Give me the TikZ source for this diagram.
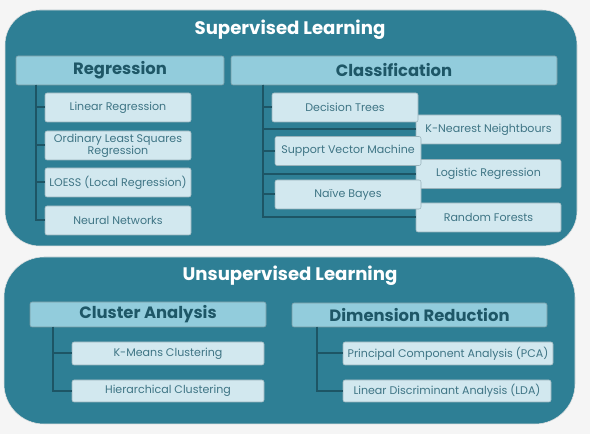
\documentclass[tikz,border=0pt]{standalone}
\usepackage{fontspec}
\setmainfont{Poppins}
\usepackage{tikz}
\usetikzlibrary{calc}

\definecolor{pagebg}{HTML}{F5F5F5}
\definecolor{panel}{HTML}{2E7F95}
\definecolor{headfill}{HTML}{92CCDC}
\definecolor{headtext}{HTML}{1E5767}
\definecolor{itemfill}{HTML}{D2E8EF}
\definecolor{itemtext}{HTML}{3F7585}
\definecolor{treeline}{HTML}{1D5565}

\tikzset{
    panelbox/.style={fill=panel, draw=black!12, rounded corners=#1},
    title/.style={text=white, font=\fontsize{13.6}{15}\selectfont\bfseries},
    head/.style={draw=treeline!60, fill=headfill, rounded corners=1.5pt, inner sep=0pt,
        text=headtext, font=\fontsize{12.3}{13}\selectfont\bfseries},
    item/.style={draw=treeline!45, fill=itemfill, rounded corners=1.5pt, inner sep=0pt,
        text=itemtext, align=center, font=\fontsize{8.3}{9}\selectfont},
    size/.style 2 args={minimum width=#1*0.75pt, minimum height=#2*0.75pt},
    branch/.style={draw=treeline, line width=1.5pt}
}

\begin{document}
\begin{tikzpicture}[x=0.75pt, y=-0.75pt]
        % Page
        \fill[pagebg] (0,0) rectangle (590,434);
        \useasboundingbox (0,0) rectangle (590,434);

        % Supervised panel
        \draw[panelbox=26pt] (5,10) rectangle (577,246);
        \node[title] (sup) at (290,30) {Supervised Learning};

        \node[head, size={208}{29}] (reg) at (120,70.5) {Regression};
        \node[head, size={326}{29}] (cls) at (394,70.5) {Classification};

        % Regression branch
        \node[item, size={146}{29}] (linreg) at (118,107.5) {Linear Regression};
        \node[item, size={146}{29}] (ols) at (118,145.5) {Ordinary Least Squares\\Regression};
        \node[item, size={146}{29}] (loess) at (118,182.5) {LOESS (Local Regression)};
        \node[item, size={146}{29}] (nnet) at (118,220.5) {Neural Networks};

        \coordinate (rtop) at (36,85);
        \draw[branch] (rtop) |- (linreg.west);
        \draw[branch] (rtop) |- (ols.west);
        \draw[branch] (rtop) |- (loess.west);
        \draw[branch] (rtop) |- (nnet.west);

        % Classification branch (right column under the left one)
        \node[item, size={145}{29}] (knn) at (488.5,129.5) {K-Nearest Neightbours};
        \node[item, size={145}{29}] (logreg) at (488.5,174) {Logistic Regression};
        \node[item, size={145}{29}] (rforest) at (488.5,217.5) {Random Forests};
        \node[item, size={146}{29}] (dtree) at (345,107.5) {Decision Trees};
        \node[item, size={146}{29}] (svm) at (348,151) {Support Vector Machine};
        \node[item, size={146}{29}] (nbayes) at (348,194.5) {Naïve Bayes};

        \coordinate (ctop) at (263,85);
        \foreach \leaf in {dtree,knn,svm,logreg,nbayes,rforest}
            \draw[branch] (ctop) |- (\leaf.west);

        % Unsupervised panel
        \draw[panelbox=30pt] (4,257) rectangle (575,424);
        \node[title] (unsup) at (290,276) {Unsupervised Learning};

        \node[head, size={236}{25}] (clu) at (148,314.5) {Cluster Analysis};
        \node[head, size={255}{24}] (dimred) at (419.5,315) {Dimension Reduction};

        % Cluster branch
        \node[item, size={192}{23}] (kmeans) at (168,353.5) {K-Means Clustering};
        \node[item, size={192}{22}] (hier) at (168,391) {Hierarchical Clustering};

        \coordinate (utop) at (53,327);
        \draw[branch] (utop) |- (kmeans.west);
        \draw[branch] (utop) |- (hier.west);

        % Dimension branch
        \node[item, size={210}{23}] (pca) at (448,353.5) {Principal Component Analysis (PCA)};
        \node[item, size={208}{22}] (lda) at (447,391) {Linear Discriminant Analysis (LDA)};

        \coordinate (dtop) at (317,327);
        \draw[branch] (dtop) |- (pca.west);
        \draw[branch] (dtop) |- (lda.west);
    \end{tikzpicture}
\end{document}
